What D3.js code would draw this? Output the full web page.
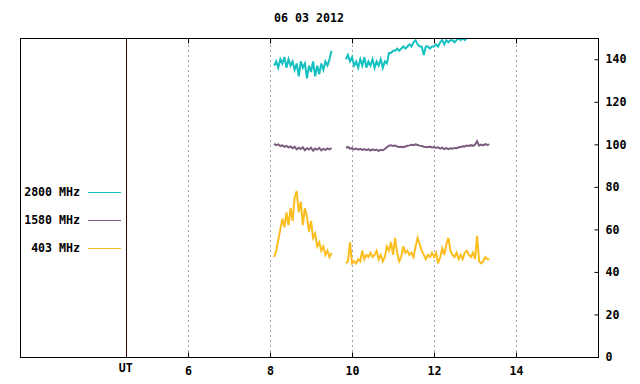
<!DOCTYPE html>
<html>
<head>
<meta charset="utf-8">
<script src="https://cdn.jsdelivr.net/npm/d3@7"></script>
<style>
  body { margin: 0; background: #fff; }
  text { font-family: "DejaVu Sans Mono", "Liberation Mono", monospace; font-weight: bold; font-size: 11.6px; fill: #000; }
</style>
</head>
<body>
<div id="vis"></div>
<script>

var width = 640,
  height = 384;

var title = '06 03 2012';

// sampling: two observing runs, 3 min cadence
var runAStart = 8.10,
  runBStart = 9.85,
  step = 0.05;

var utMark = 4.48;
var hourTicks = [ 6, 8, 10, 12, 14 ];
var fluxTicks = [ 0, 20, 40, 60, 80, 100, 120, 140 ];

var labels = [ '2800 MHz', '1580 MHz', '403 MHz' ];
var colors = [ '#14c0c0', '#7a5c7e', '#fcbd1e' ];

var f2800a = [ 137, 139, 136, 140, 138, 141, 136, 140, 137, 139, 135, 138, 132, 139, 136, 138, 131, 137, 134, 139,
  132, 137, 133, 138, 135, 139, 137, 140, 144 ];
var f2800b = [ 140, 142, 139, 141, 137, 139, 136, 140, 137, 141, 136, 139, 137, 140, 136, 139, 137, 140, 136, 139,
  138, 143, 143, 144, 144, 145, 144, 145, 146, 145, 146, 147, 146, 148, 149, 147, 146, 146, 142, 146,
  146, 145, 146, 146, 147, 146, 148, 149, 147, 149, 148, 149, 149, 148, 149, 150, 149, 150, 149, 150,
  150, 150, 151, 150, 151, 152, 153, 154, 153, 154, 154 ];

var f1580a = [ 100.2, 99.6, 100.0, 99.2, 99.5, 98.8, 99.3, 98.6, 99.0, 98.2, 98.8, 97.6, 98.4, 97.8, 98.6, 97.2,
  98.2, 97.6, 98.4, 97.0, 98.0, 97.5, 98.3, 97.2, 97.9, 97.4, 98.1, 97.6, 98.3 ];
var f1580b = [ 98.4, 98.8, 98.0, 98.2, 97.6, 98.0, 97.5, 97.9, 97.4, 97.8, 97.3, 97.7, 97.1, 97.6, 97.2, 97.5,
  96.9, 97.4, 97.2, 97.8, 98.6, 99.4, 99.6, 99.2, 99.4, 99.0, 98.8, 98.9, 98.7, 99.0, 99.3, 99.5,
  99.8, 99.6, 100.0, 99.7, 99.4, 99.2, 98.9, 98.8, 98.6, 98.9, 98.5, 98.7, 98.3, 98.6, 98.0, 98.4,
  97.8, 98.2, 97.7, 98.1, 97.9, 98.3, 98.2, 98.6, 98.7, 99.1, 99.0, 99.4, 99.2, 99.6, 99.3, 99.8,
  101.5, 99.4, 99.9, 99.5, 100.1, 99.7, 100.0 ];

var f403a = [ 47, 50, 55, 60, 65, 61, 68, 62, 70, 64, 75, 78, 68, 73, 62, 70, 66, 59, 64, 56,
  58, 52, 54, 50, 52, 48, 50, 47, 49 ];
var f403b = [ 44, 45, 54, 44, 45, 44, 46, 45, 50, 46, 48, 47, 49, 47, 48, 50, 46, 48, 45, 47,
  52, 50, 54, 48, 56, 49, 45, 47, 52, 49, 50, 48, 49, 47, 52, 56, 53, 50, 48, 46,
  48, 47, 49, 47, 49, 44, 47, 51, 48, 53, 56, 50, 48, 47, 49, 46, 48, 46, 49, 50,
  48, 47, 49, 46, 57, 45, 44, 45, 47, 46, 46 ];

var series = [
  [ f2800a, f2800b ],
  [ f1580a, f1580b ],
  [ f403a, f403b ]
];

/* Scales */

var x = d3.scaleLinear()
  .domain( [ 1.9, 16 ] )
  .range( [ 20, 598 ] );

var y = d3.scaleLinear()
  .domain( [ 0, 150 ] )
  .range( [ 357, 38 ] );

var line = d3.line()
  .x( d => x( d.t ) )
  .y( d => y( d.v ) );

function toPoints( values, start ) {
  return values.map( ( v, i ) => ( { t: start + i * step, v: v } ) );
}

/* Drawing */

var svg = d3.select( '#vis' ).append( 'svg' )
  .attr( 'width', width )
  .attr( 'height', height );

svg.append( 'clipPath' )
  .attr( 'id', 'plot' )
  .append( 'rect' )
    .attr( 'x', x.range()[ 0 ] )
    .attr( 'y', y.range()[ 1 ] )
    .attr( 'width', x.range()[ 1 ] - x.range()[ 0 ] )
    .attr( 'height', y.range()[ 0 ] - y.range()[ 1 ] );

// grid
svg.selectAll( 'line.grid' )
  .data( hourTicks )
  .enter().append( 'line' )
    .attr( 'class', 'grid' )
    .attr( 'x1', d => Math.round( x( d ) ) + 0.5 )
    .attr( 'x2', d => Math.round( x( d ) ) + 0.5 )
    .attr( 'y1', y.range()[ 0 ] )
    .attr( 'y2', y.range()[ 1 ] )
    .attr( 'stroke', '#a0a0a0' )
    .attr( 'stroke-dasharray', '2,3' );

// UT marker
svg.append( 'line' )
  .attr( 'x1', Math.round( x( utMark ) ) + 0.5 )
  .attr( 'x2', Math.round( x( utMark ) ) + 0.5 )
  .attr( 'y1', y.range()[ 0 ] )
  .attr( 'y2', y.range()[ 1 ] )
  .attr( 'stroke', '#3a0000' );

// data
var g = svg.append( 'g' ).attr( 'clip-path', 'url(#plot)' );

series.forEach( ( s, k ) => {
  [ toPoints( s[ 0 ], runAStart ), toPoints( s[ 1 ], runBStart ) ].forEach( pts => {
    g.append( 'path' )
      .datum( pts )
      .attr( 'd', line )
      .attr( 'fill', 'none' )
      .attr( 'stroke', colors[ k ] )
      .attr( 'stroke-width', 2 );
  } );
} );

// frame
svg.append( 'rect' )
  .attr( 'x', x.range()[ 0 ] + 0.5 )
  .attr( 'y', y.range()[ 1 ] + 0.5 )
  .attr( 'width', x.range()[ 1 ] - x.range()[ 0 ] )
  .attr( 'height', y.range()[ 0 ] - y.range()[ 1 ] )
  .attr( 'fill', 'none' )
  .attr( 'stroke', '#000' );

// x ticks, top and bottom, inward
var bottomAxis = svg.append( 'g' )
  .attr( 'transform', 'translate(0,' + ( y.range()[ 0 ] + 0.5 ) + ')' )
  .call( d3.axisBottom( x ).tickValues( hourTicks ).tickSizeInner( -5 ).tickSizeOuter( 0 ).tickPadding( 9.5 ) );
bottomAxis.select( '.domain' ).remove();

var topAxis = svg.append( 'g' )
  .attr( 'transform', 'translate(0,' + ( y.range()[ 1 ] + 0.5 ) + ')' )
  .call( d3.axisTop( x ).tickValues( hourTicks ).tickSizeInner( -5 ).tickSizeOuter( 0 ).tickFormat( '' ) );
topAxis.select( '.domain' ).remove();

// y ticks on the right, inward
var rightAxis = svg.append( 'g' )
  .attr( 'transform', 'translate(' + ( x.range()[ 1 ] + 0.5 ) + ',0)' )
  .call( d3.axisRight( y ).tickValues( fluxTicks ).tickSizeInner( -4 ).tickSizeOuter( 0 ).tickPadding( 7 ) );
rightAxis.select( '.domain' ).remove();

svg.selectAll( '.tick text' )
  .attr( 'font-family', null )
  .attr( 'font-size', null );

svg.selectAll( '.tick line' )
  .attr( 'stroke', '#000' );

svg.append( 'text' )
  .attr( 'x', x( utMark ) )
  .attr( 'y', 372 )
  .attr( 'text-anchor', 'middle' )
  .text( 'UT' );

// title
svg.append( 'text' )
  .attr( 'x', ( x.range()[ 0 ] + x.range()[ 1 ] ) / 2 )
  .attr( 'y', 22 )
  .attr( 'text-anchor', 'middle' )
  .text( title );

// legend
var legend = svg.selectAll( 'g.legend' )
  .data( labels )
  .enter().append( 'g' )
    .attr( 'class', 'legend' )
    .attr( 'transform', ( d, i ) => 'translate(0,' + ( 192 + i * 28 ) + ')' );

legend.append( 'text' )
  .attr( 'x', 80 )
  .attr( 'y', 4 )
  .attr( 'text-anchor', 'end' )
  .text( d => d );

legend.append( 'line' )
  .attr( 'x1', 88 )
  .attr( 'x2', 121 )
  .attr( 'y1', 0.5 )
  .attr( 'y2', 0.5 )
  .attr( 'stroke', ( d, i ) => colors[ i ] );

</script>
</body>
</html>
